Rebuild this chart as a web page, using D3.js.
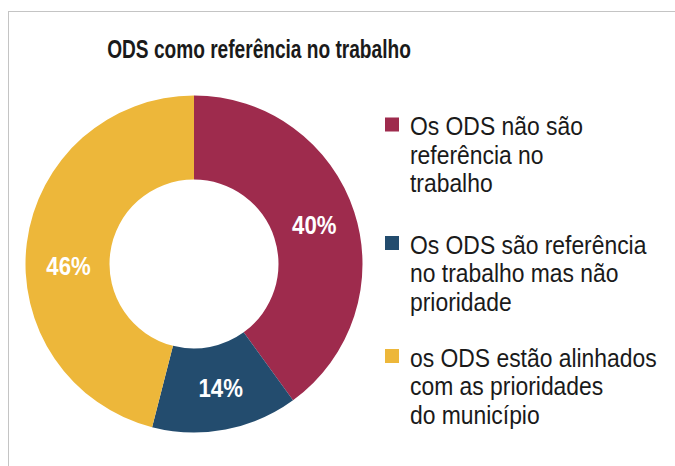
<!DOCTYPE html>
<html>
<head>
<meta charset="utf-8">
<script src="https://cdn.jsdelivr.net/npm/d3@7/dist/d3.min.js"></script>
<style>
  html, body { margin: 0; padding: 0; background: #fff; }
  svg { display: block; }
  .narrow { font-family: 'Liberation Sans', Arial, sans-serif; }
</style>
</head>
<body>
<svg id="chart" width="675" height="466"></svg>
<script>
// ---- data ----
const title = "ODS como referência no trabalho";
const categories = [
  "Os ODS não são referência no trabalho",
  "Os ODS são referência no trabalho mas não prioridade",
  "os ODS estão alinhados com as prioridades do município"
];
const values = [40, 14, 46];
const valueLabels = ["40%", "14%", "46%"];
const legendLines = [
  ["Os ODS não são", "referência no", "trabalho"],
  ["Os ODS são referência", "no trabalho mas não", "prioridade"],
  ["os ODS estão alinhados", "com as prioridades", "do município"]
];
const colors = ["#9E2B4D", "#234C6E", "#EDB73A"];

// ---- layout ----
const cx = 194, cy = 264, rOuter = 168.5, rInner = 84.5;
const legendX = 385, legendTextX = 410;
const legendTops = [135.5, 254, 367];
const lineH = 28.5;
const labelNudge = [[0, 0], [3, 0], [0, 18]];
const titleScale = 0.75, legendScale = 0.915, labelScale = 0.87;

const svg = d3.select("#chart");

// border frame (extends off canvas right/bottom)
svg.append("rect")
  .attr("x", 8.5).attr("y", 11.5)
  .attr("width", 720).attr("height", 520)
  .attr("fill", "none").attr("stroke", "#c4c4c4").attr("stroke-width", 1);

// title
svg.append("g")
  .attr("transform", `translate(259,58) scale(${titleScale},1)`)
  .append("text")
  .attr("class", "narrow")
  .attr("text-anchor", "middle")
  .attr("font-size", 25.5).attr("font-weight", "bold")
  .attr("fill", "#1a1a1a")
  .text(title);

const color = d3.scaleOrdinal().domain(categories).range(colors);
const pie = d3.pie().sort(null).value(d => d.value);
const arcs = pie(categories.map((c, i) => ({ cat: c, value: values[i], label: valueLabels[i], i })));
const arc = d3.arc().innerRadius(rInner).outerRadius(rOuter);

const g = svg.append("g").attr("transform", `translate(${cx},${cy})`);
g.selectAll("path.slice").data(arcs).join("path")
  .attr("class", "slice")
  .attr("d", arc)
  .attr("fill", d => color(d.data.cat));

g.selectAll("g.val").data(arcs).join("g")
  .attr("class", "val")
  .attr("transform", d => {
    const [x, y] = arc.centroid(d);
    const n = labelNudge[d.data.i];
    return `translate(${x + n[0]},${y + n[1] + 9}) scale(${labelScale},1)`;
  })
  .append("text")
  .attr("class", "narrow")
  .attr("text-anchor", "middle")
  .attr("font-size", 25.5).attr("font-weight", "bold")
  .attr("fill", "#fff")
  .text(d => d.data.label);

// legend
const lg = svg.append("g");
categories.forEach((c, i) => {
  const base = legendTops[i];
  lg.append("rect")
    .attr("x", legendX).attr("y", base - 18)
    .attr("width", 14).attr("height", 14)
    .attr("fill", color(c));
  const t = lg.append("g")
    .attr("transform", `translate(${legendTextX},0) scale(${legendScale},1)`)
    .append("text")
    .attr("class", "narrow")
    .attr("font-size", 25)
    .attr("fill", "#1a1a1a");
  legendLines[i].forEach((ln, j) => {
    t.append("tspan").attr("x", 0).attr("y", base + j * lineH).text(ln);
  });
});
</script>
</body>
</html>
